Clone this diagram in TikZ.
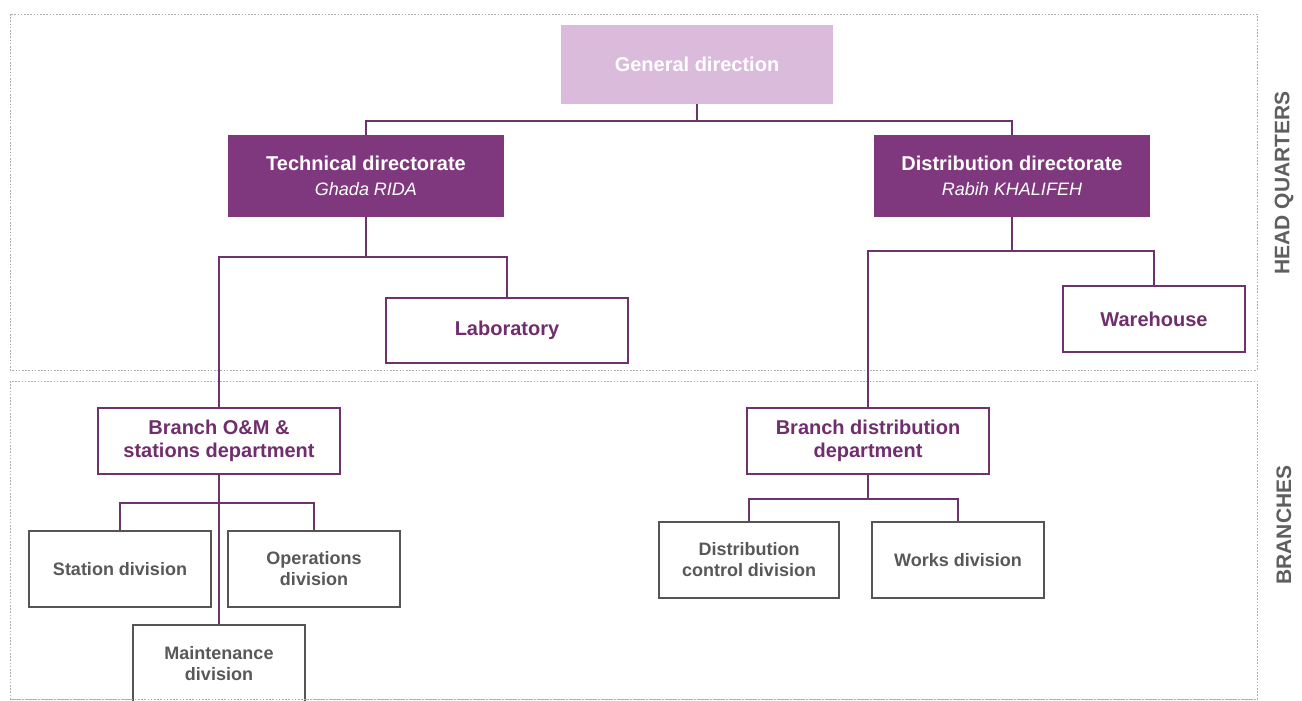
\documentclass[tikz,border=0pt]{standalone}
\usepackage{fontspec}
\setmainfont{Liberation Sans}
\begin{document}
\begin{tikzpicture}[x=1pt,y=-1pt,
  box/.style={rectangle,inner sep=0pt,align=center},
  dirbox/.style={box,fill=dirpurple,draw=none,text=white,minimum width=276pt,minimum height=82pt},
  outbox/.style={box,draw=linepurple,line width=1.5pt,fill=white,text=textpurple,
    font=\fontsize{20}{23}\selectfont\bfseries},
  divbox/.style={box,draw=boxgrey,line width=1.5pt,fill=white,text=divtext,
    font=\fontsize{18}{21}\selectfont\bfseries,minimum height=76pt},
  link/.style={draw=linepurple,line width=1.6pt},
  zone/.style={draw=zonegrey,line width=0.9pt,dash pattern=on 1.6pt off 1.6pt},
  side/.style={text=sidegrey,font=\fontsize{21}{24}\selectfont\bfseries,rotate=90},
  dirname/.style={font=\fontsize{20}{24}\selectfont},
]
\definecolor{dirpurple}{RGB}{127,56,126}
\definecolor{lightpurple}{RGB}{219,187,219}
\definecolor{linepurple}{RGB}{108,52,106}
\definecolor{textpurple}{RGB}{112,46,108}
\definecolor{boxgrey}{RGB}{85,85,85}
\definecolor{divtext}{RGB}{88,88,88}
\definecolor{zonegrey}{RGB}{175,175,175}
\definecolor{sidegrey}{RGB}{95,95,95}

\useasboundingbox (0,0) rectangle (1302,701);
\fill[white] (0,0) rectangle (1302,701);

% zones
\draw[zone] (10,14) rectangle (1257,370);
\draw[zone] (10,381) rectangle (1257,699);
\node[side] (hq) at (1284,183) {HEAD QUARTERS};
\node[side] (br) at (1284,525) {BRANCHES};

% head quarters
\node[box,fill=lightpurple,text=white,minimum width=272pt,minimum height=79pt,
  font=\fontsize{20}{23}\selectfont\bfseries] (gen) at (697,64.5) {General direction};

\node[dirbox,dirname] (tech) at (366,176)
  {\bfseries Technical directorate\\[1pt]{\fontsize{18}{22}\selectfont\itshape Ghada RIDA}};
\node[dirbox,dirname] (dist) at (1012,176)
  {\bfseries Distribution directorate\\[1pt]{\fontsize{18}{22}\selectfont\itshape Rabih KHALIFEH}};

\node[outbox,minimum width=242pt,minimum height=65pt] (lab) at (507,330.5) {Laboratory};
\node[outbox,minimum width=182pt,minimum height=66pt] (wh) at (1154,319) {Warehouse};

% branches
\node[outbox,minimum width=242pt,minimum height=66pt] (bom) at (219,441)
  {Branch O\&M \&\\stations department};
\node[outbox,minimum width=242pt,minimum height=66pt] (bdist) at (868,441)
  {Branch distribution\\department};

\node[divbox,minimum width=182pt] (stat) at (120,569) {Station division};
\node[divbox,minimum width=172pt] (ops) at (314,569) {Operations\\division};
\node[divbox,minimum width=172pt,minimum height=78pt] (mnt) at (219,664) {Maintenance\\division};
\node[divbox,minimum width=180pt] (dctl) at (749,560) {Distribution\\control division};
\node[divbox,minimum width=172pt] (works) at (958,560) {Works division};

% connectors
\path (gen.south) ++(0,17) coordinate (jgen);
\draw[link] (gen.south) -- (jgen);
\draw[link] (tech.north) |- (jgen) -| (dist.north);

\path (tech.south) ++(0,40) coordinate (jtech);
\draw[link] (tech.south) -- (jtech);
\draw[link] (bom.north) |- (jtech) -| (lab.north);

\path (dist.south) ++(0,34) coordinate (jdist);
\draw[link] (dist.south) -- (jdist);
\draw[link] (bdist.north) |- (jdist) -| (wh.north);

\path (bom.south) ++(0,28) coordinate (jbom);
\draw[link] (bom.south) -- (mnt.north);
\draw[link] (stat.north) |- (jbom) -| (ops.north);

\path (bdist.south) ++(0,24) coordinate (jbd);
\draw[link] (bdist.south) -- (jbd);
\draw[link] (dctl.north) |- (jbd) -| (works.north);

% bottom edge of the branches zone, over the cut-off box
\draw[zone] (10,699) -- (1257,699);
\end{tikzpicture}
\end{document}
